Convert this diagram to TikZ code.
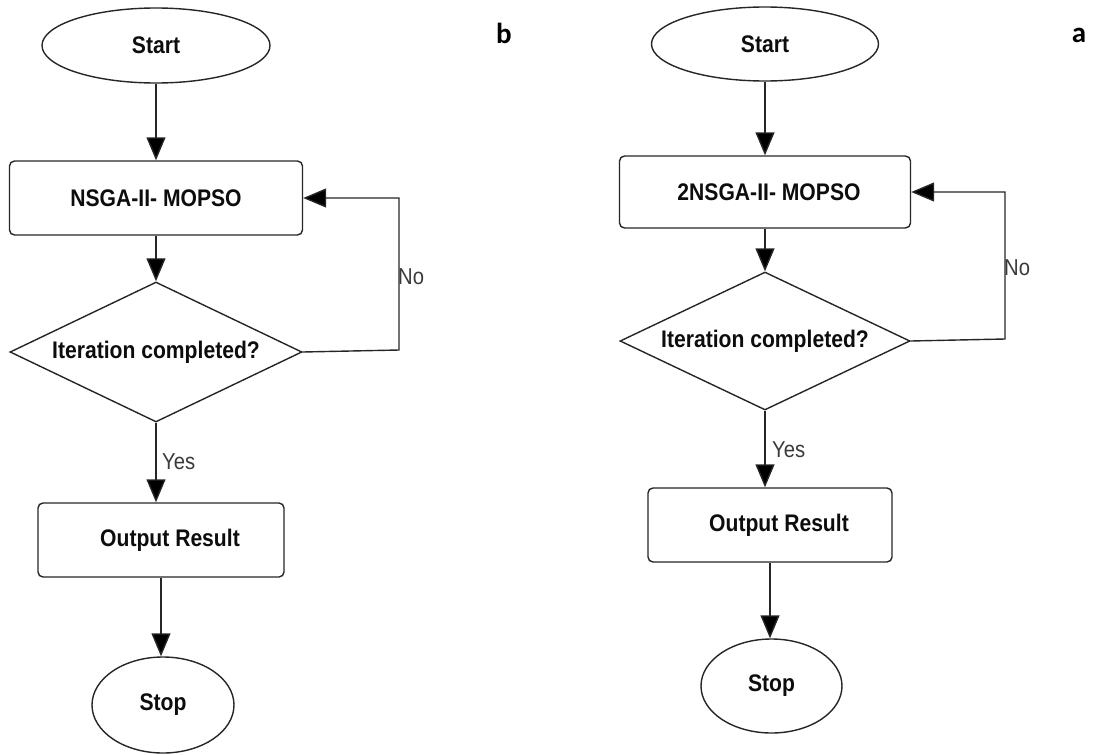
\documentclass[tikz,border=0pt]{standalone}
\usepackage{fontspec}
\newfontfamily\labfont{Liberation Sans}[FakeStretch=0.88]
\newfontfamily\panelfont{Carlito}
\usetikzlibrary{shapes.geometric,arrows.meta}
\definecolor{linec}{HTML}{262626}
\definecolor{textc}{HTML}{0D0D0D}
\definecolor{notec}{HTML}{3A3A3A}
\tikzset{
  base/.style={draw=linec, line width=1.4pt, fill=white, inner sep=0pt, text=textc,
    font=\labfont\bfseries\fontsize{24}{28}\selectfont},
  term/.style={base, ellipse},
  procbox/.style={base, rectangle, rounded corners=5pt},
  decide/.style={base, diamond, aspect=2.1},
  conn/.style={draw=linec, line width=1.4pt, -{Triangle[length=23pt,width=19pt,fill=black]}},
  note/.style={text=notec, inner sep=0pt, font=\labfont\fontsize{23}{27}\selectfont},
  panel/.style={inner sep=0pt, text=black, font=\panelfont\bfseries\fontsize{29}{32}\selectfont}
}
\begin{document}
\begin{tikzpicture}[x=1pt,y=-1pt]
\useasboundingbox (0,0) rectangle (1093,755);
% ---- left chart (b)
\node[term, minimum width=228pt, minimum height=75pt] (start1) at (156,45.5) {Start};
\node[procbox, minimum width=293pt, minimum height=74pt] (proc1) at (156,198) {NSGA-II- MOPSO};
\node[decide, minimum width=292pt, minimum height=140pt] (dec1) at (156,352) {Iteration completed?};
\node[procbox, minimum width=246pt, minimum height=74pt] (out1) at (161,540) {\hspace*{18pt}Output Result};
\node[term, minimum width=142pt, minimum height=96pt] (stop1) at (163,705) {Stop};
\coordinate (n1) at (399,350);
\draw[conn] (start1) -- (proc1);
\draw[conn] (proc1) -- (dec1);
\draw[conn] (dec1.south) -- (dec1.south |- out1.north);
\draw[conn] (out1.south) -- (out1.south |- stop1.north);
\draw[conn] (dec1.east) -- (n1) |- (proc1.east);
\node[note, anchor=west] (no1) at (398,277) {No};
\node[note, anchor=west] (yes1) at (162,462) {Yes};
\node[panel] (lb) at (504,33) {b};
% ---- right chart (a)
\node[term, minimum width=227pt, minimum height=74pt] (start2) at (765,44) {Start};
\node[procbox, minimum width=291pt, minimum height=72pt] (proc2) at (765,192) {\hspace*{8pt}2NSGA-II- MOPSO};
\node[decide, minimum width=290pt, minimum height=138pt] (dec2) at (765,341) {Iteration completed?};
\node[procbox, minimum width=244pt, minimum height=74pt] (out2) at (770,525) {\hspace*{18pt}Output Result};
\node[term, minimum width=141pt, minimum height=94pt] (stop2) at (771.5,686) {Stop};
\coordinate (n2) at (1005,339);
\draw[conn] (start2) -- (proc2);
\draw[conn] (proc2) -- (dec2);
\draw[conn] (dec2.south) -- (dec2.south |- out2.north);
\draw[conn] (out2.south) -- (out2.south |- stop2.north);
\draw[conn] (dec2.east) -- (n2) |- (proc2.east);
\node[note, anchor=west] (no2) at (1004,268) {No};
\node[note, anchor=west] (yes2) at (772,450) {Yes};
\node[panel] (la) at (1079,35) {a};
\end{tikzpicture}
\end{document}
